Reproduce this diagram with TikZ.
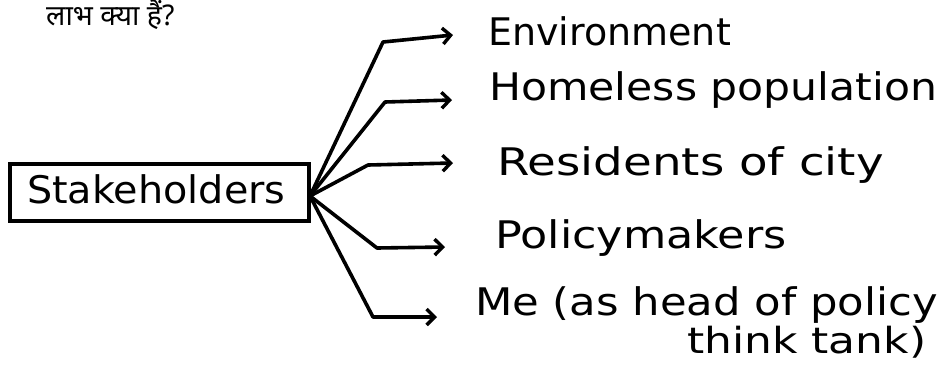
\documentclass[tikz,border=0pt]{standalone}
\usepackage{fontspec}
\setmainfont{DejaVu Sans}
\newfontfamily\hindifont[Script=Devanagari]{Noto Sans}
\usetikzlibrary{arrows.meta}
\begin{document}
\begin{tikzpicture}[x=1pt,y=-1pt,
  hand/.style={font=\fontsize{38}{40}\selectfont, inner sep=0pt, anchor=base west},
  arr/.style={line width=3.6pt, line join=round, line cap=round,
    -{Straight Barb[length=8pt,width=16pt,line width=3.4pt]}},
  box/.style={draw, line width=3.4pt, minimum width=299pt, minimum height=57pt, inner sep=0pt}]
\useasboundingbox (0,0) rectangle (951,365);
\fill[white] (0,0) rectangle (951,365);
\node[font=\hindifont\bfseries\fontsize{28.5}{30}\selectfont, anchor=base west, inner sep=0pt] (q) at (46,25) {लाभ क्या हैं?};
\node[box] (stake) at (159.5,192.5) {};
\node[hand, anchor=base west] (stakelbl) at (27,203) {\scalebox{1.045}[1]{Stakeholders}};
\coordinate (hub) at (310,196);
\node[hand] (env) at (488,45) {Environment};
\node[hand] (home) at (489,100) {\scalebox{1.12}[1]{Homeless population}};
\node[hand] (res) at (497,175) {\scalebox{1.23}[1]{Residents of city}};
\node[hand] (pol) at (495,248) {\scalebox{1.17}[1]{Policymakers}};
\node[hand] (me) at (475,315) {\scalebox{1.14}[1]{Me (as head of policy}};
\node[hand, font=\fontsize{36}{38}\selectfont] (me2) at (687,353) {\scalebox{1.22}[1]{think tank)}};
\coordinate (b1) at (383,42);  \coordinate (t1) at (453,35);
\coordinate (b2) at (385,102); \coordinate (t2) at (452,100);
\coordinate (b3) at (368,165); \coordinate (t3) at (453,163);
\coordinate (b4) at (377,248); \coordinate (t4) at (445,247);
\coordinate (b5) at (373,317); \coordinate (t5) at (437,317);
\draw[arr] (hub) -- (b1) -- (t1);
\draw[arr] (hub) -- (b2) -- (t2);
\draw[arr] (hub) -- (b3) -- (t3);
\draw[arr] (hub) -- (b4) -- (t4);
\draw[arr] (hub) -- (b5) -- (t5);
\end{tikzpicture}
\end{document}
